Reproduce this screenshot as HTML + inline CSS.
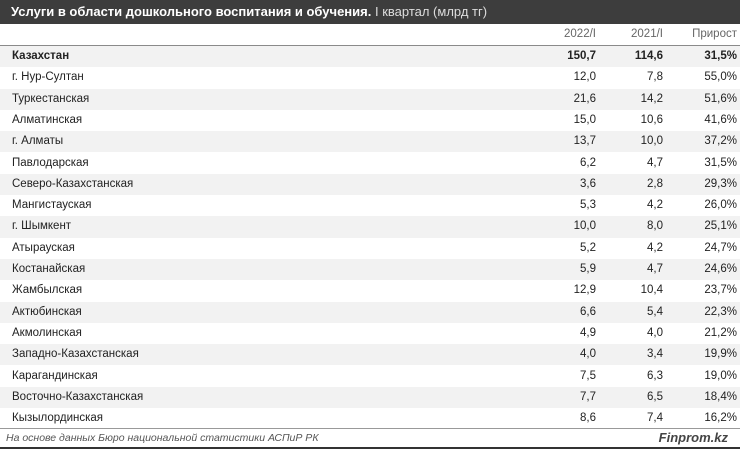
<!DOCTYPE html>
<html><head><meta charset="utf-8"><style>
body{margin:0;width:740px;height:450px;background:#fff;font-family:"Liberation Sans",sans-serif;position:relative;overflow:hidden;color:#222}
.t{position:absolute;left:0;top:0;width:740px;height:24px;background:#3d3d3d;color:#fff;font-size:13px;line-height:24px}
.t b{padding-left:11px}
.t span{color:#ddd}
.r{position:absolute;left:0;width:740px;height:21.3px;font-size:11.5px;line-height:21.3px}
.r div{position:absolute;top:0}
.n{left:12px}.a{right:144px}.b{right:77px}.c{right:3px}
.g{background:#f2f2f2}
.h{color:#666}
</style></head><body>
<div class="t"><b>Услуги в области дошкольного воспитания и обучения.</b> <span>I квартал (млрд тг)</span></div>
<div class="r h" style="top:24px"><div class="a">2022/I</div><div class="b">2021/I</div><div class="c">Прирост</div></div>
<div style="position:absolute;left:0;top:45px;width:740px;height:2px;background:#8a8a8a"></div>
<div id="rows"></div>
<div style="position:absolute;left:0;top:428px;width:740px;height:1px;background:#999"></div>
<div style="position:absolute;left:6px;top:432px;font-size:10.5px;font-style:italic;color:#555">На основе данных Бюро национальной статистики АСПиР РК</div>
<div style="position:absolute;right:12px;top:430px;font-size:13px;font-weight:bold;font-style:italic;color:#444">Finprom.kz</div>
<div style="position:absolute;left:0;top:447px;width:740px;height:2px;background:#333"></div>
<script>
var d=[["Казахстан","150,7","114,6","31,5%"],["г. Нур-Султан","12,0","7,8","55,0%"],["Туркестанская","21,6","14,2","51,6%"],["Алматинская","15,0","10,6","41,6%"],["г. Алматы","13,7","10,0","37,2%"],["Павлодарская","6,2","4,7","31,5%"],["Северо-Казахстанская","3,6","2,8","29,3%"],["Мангистауская","5,3","4,2","26,0%"],["г. Шымкент","10,0","8,0","25,1%"],["Атырауская","5,2","4,2","24,7%"],["Костанайская","5,9","4,7","24,6%"],["Жамбылская","12,9","10,4","23,7%"],["Актюбинская","6,6","5,4","22,3%"],["Акмолинская","4,9","4,0","21,2%"],["Западно-Казахстанская","4,0","3,4","19,9%"],["Карагандинская","7,5","6,3","19,0%"],["Восточно-Казахстанская","7,7","6,5","18,4%"],["Кызылординская","8,6","7,4","16,2%"]];
var h="";d.forEach(function(r,i){h+='<div class="r'+(i%2==0?' g':'')+'" style="top:'+(46+i*21.3)+'px;'+(i==0?'font-weight:bold':'')+'"><div class="n">'+r[0]+'</div><div class="a">'+r[1]+'</div><div class="b">'+r[2]+'</div><div class="c">'+r[3]+'</div></div>';});
document.getElementById("rows").innerHTML=h;
</script>
</body></html>
